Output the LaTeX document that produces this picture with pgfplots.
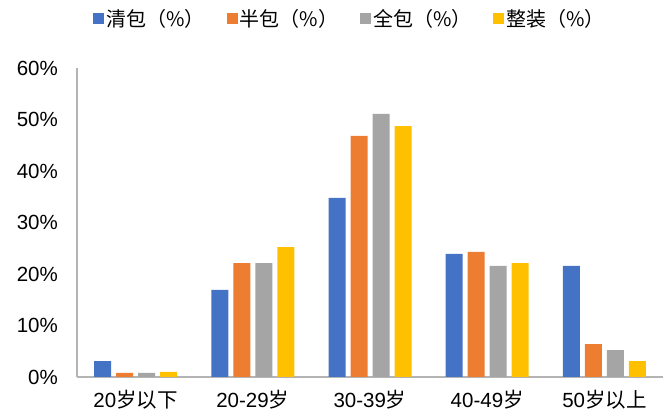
\documentclass[border=0pt]{standalone}
\usepackage{pgfplots}
\pgfplotsset{compat=1.18}
\usepackage{fontspec}
\setmainfont{Liberation Sans}
\newfontfamily\cjk{Noto Sans CJK SC}
\definecolor{cblue}{HTML}{4472C4}
\definecolor{corange}{HTML}{ED7D31}
\definecolor{cgray}{HTML}{A5A5A5}
\definecolor{cyellow}{HTML}{FFC000}
\definecolor{axisgray}{RGB}{180,180,180}
\begin{document}
\begin{tikzpicture}
\path[use as bounding box] (-77bp,-39bp) rectangle (592bp,377bp);
\begin{axis}[
  at={(0,0)}, anchor=south west,
  scale only axis,
  width=586bp, height=309bp,
  xmin=-0.5, xmax=4.5,
  ymin=0, ymax=60,
  ybar=5bp, bar width=17bp,
  axis x line=bottom, axis y line=left,
  axis line style={-, draw=axisgray, line width=1.5bp},
  xtick={0,1,2,3,4},
  xticklabels={20{\cjk 岁以下}, 20-29{\cjk 岁}, 30-39{\cjk 岁}, 40-49{\cjk 岁}, 50{\cjk 岁以上}},
  ytick={0,10,20,30,40,50,60},
  yticklabels={0\%,10\%,20\%,30\%,40\%,50\%,60\%},
  major tick length=0pt,
  tick style={draw=none},
  ticklabel style={font=\fontsize{20.5bp}{24bp}\selectfont, inner sep=0pt},
  yticklabel style={xshift=-19bp},
  xticklabel style={yshift=-13bp},
  legend style={draw=none, fill=none, at={(0.466,1.159)}, anchor=center,
    legend columns=4, font=\cjk\fontsize{20bp}{22bp}\selectfont,
    /tikz/every even column/.append style={column sep=20bp},
    inner sep=0pt},
  legend image code/.code={\fill[#1] (0bp,-5.5bp) rectangle (11bp,5.5bp);},
]
\addplot[fill=cblue, draw=none] coordinates {(0,3.1) (1,16.9) (2,34.8) (3,23.9) (4,21.6)};
\addplot[fill=corange, draw=none] coordinates {(0,0.8) (1,22.1) (2,46.8) (3,24.3) (4,6.4)};
\addplot[fill=cgray, draw=none] coordinates {(0,0.8) (1,22.1) (2,51.1) (3,21.6) (4,5.2)};
\addplot[fill=cyellow, draw=none] coordinates {(0,1.0) (1,25.2) (2,48.7) (3,22.1) (4,3.1)};
\legend{清包（\%）, 半包（\%）, 全包（\%）, 整装（\%）}
\end{axis}
\end{tikzpicture}
\end{document}
